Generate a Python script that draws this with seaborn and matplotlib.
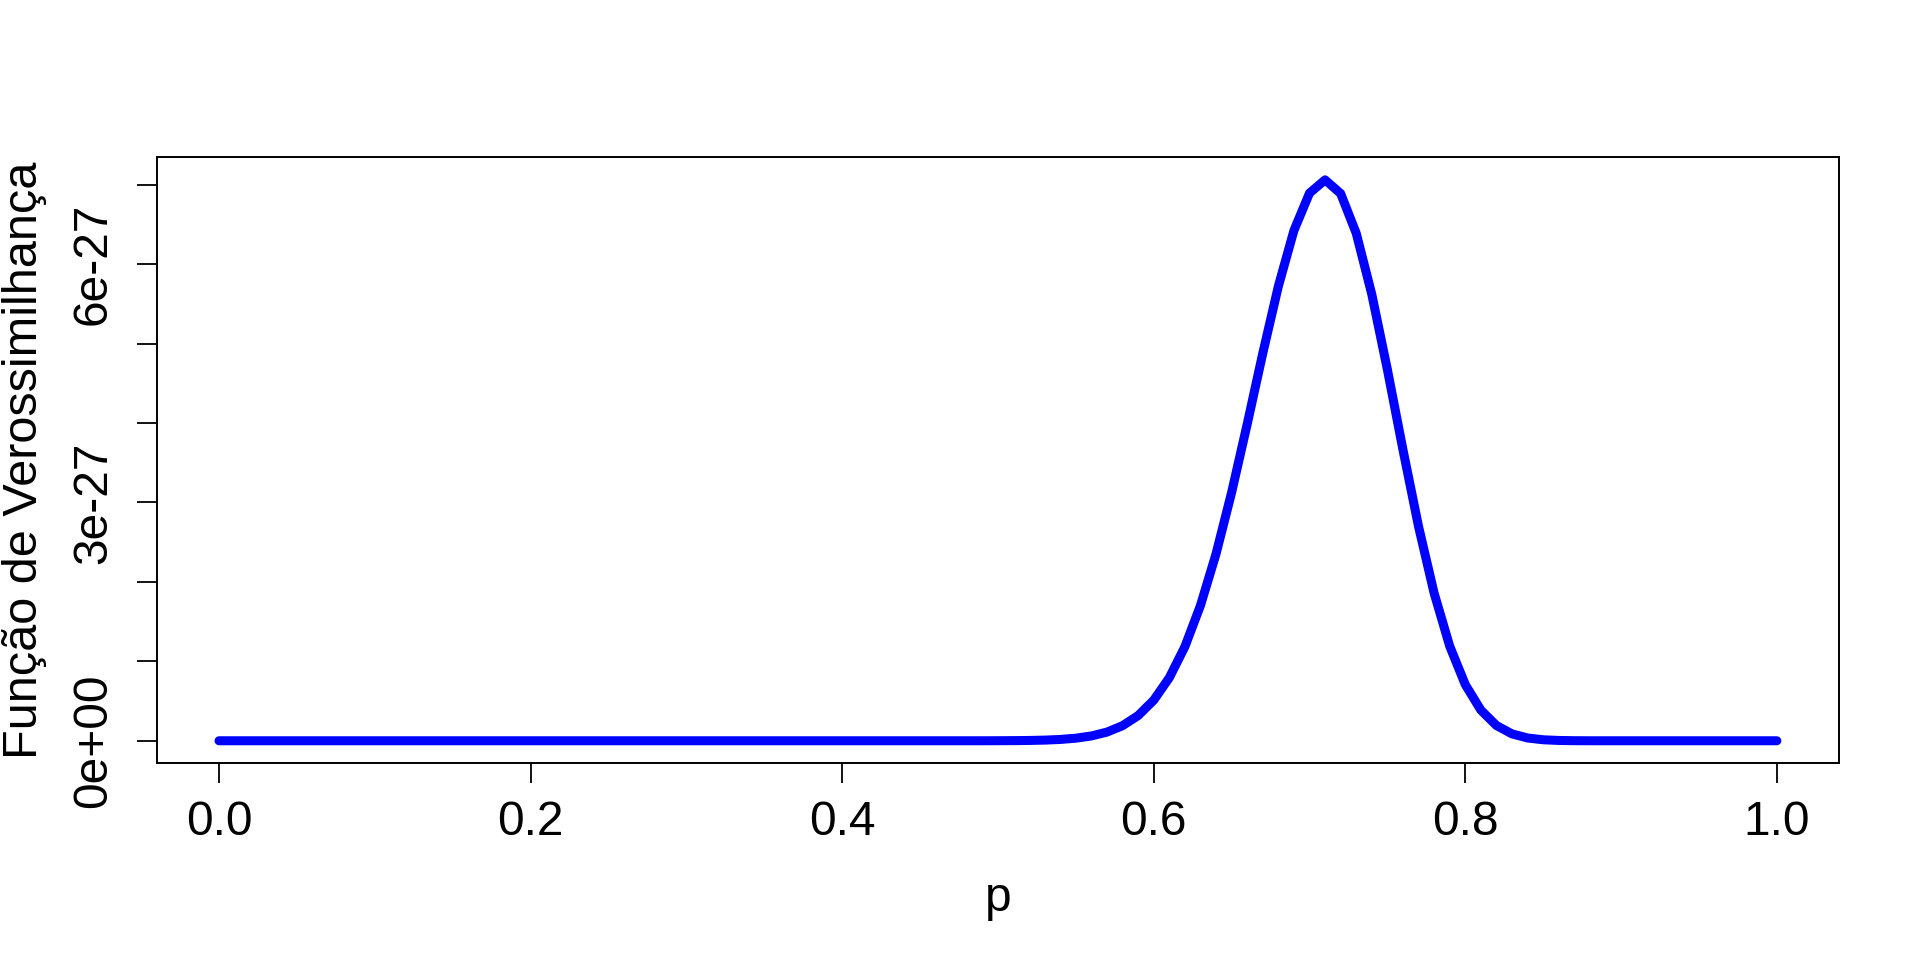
import numpy as np
import matplotlib
matplotlib.use("Agg")
import matplotlib.pyplot as plt
import seaborn as sns

# === dados: p de 0.00 a 1.00 (passo 0.01) e verossimilhança (em 1e-27) ===
p = np.round(np.linspace(0, 1, 101), 2)
veross = [
    0, 0, 0, 0, 0, 0, 0, 0, 0, 0,            # 0.00 - 0.09
    0, 0, 0, 0, 0, 0, 0, 0, 0, 0,            # 0.10 - 0.19
    0, 0, 0, 0, 0, 0, 0, 0, 0, 0,            # 0.20 - 0.29
    0, 0, 0, 0, 0, 0, 0, 0, 0, 0,            # 0.30 - 0.39
    0, 0, 0, 0, 0, 0, 0, 0, 0, 0,            # 0.40 - 0.49
    0.0008, 0.0018, 0.0039, 0.0082, 0.0166,  # 0.50 - 0.54
    0.0323, 0.0605, 0.109, 0.190, 0.317,     # 0.55 - 0.59
    0.511, 0.793, 1.184, 1.702, 2.352,       # 0.60 - 0.64
    3.125, 3.985, 4.877, 5.721, 6.423,       # 0.65 - 0.69
    6.894, 7.061, 6.889, 6.389, 5.619,       # 0.70 - 0.74
    4.673, 3.663, 2.697, 1.858, 1.191,       # 0.75 - 0.79
    0.707, 0.386, 0.192, 0.0866, 0.0349,     # 0.80 - 0.84
    0.0125, 0.0039, 0.0010, 0, 0,            # 0.85 - 0.89
    0, 0, 0, 0, 0, 0, 0, 0, 0, 0,            # 0.90 - 0.99
    0,                                       # 1.00
]
escala = 1e-27
yticks = [0, 1, 2, 3, 4, 5, 6, 7]
ytick_labels = ["0e+00", "", "", "3e-27", "", "", "6e-27", ""]
xticks = [0.0, 0.2, 0.4, 0.6, 0.8, 1.0]

# === estilo ===
sns.set_style("ticks")
plt.rcParams['font.family'] = ['Liberation Sans', 'DejaVu Sans']
plt.rcParams['text.color'] = 'black'
plt.rcParams['axes.labelcolor'] = 'black'
plt.rcParams['xtick.color'] = 'black'
plt.rcParams['ytick.color'] = 'black'
fs = 34.5

fig = plt.figure(figsize=(19.2, 9.6), dpi=100)
ax = fig.add_axes([0.0816, 0.205, 0.8763, 0.631])

y = np.array(veross) * escala
sns.lineplot(x=p, y=y, color="#0000ff", linewidth=6.5, solid_capstyle="round",
             solid_joinstyle="round", ax=ax)

ax.set_xlim(-0.04, 1.04)
ymax = max(veross) * escala
ax.set_ylim(-0.04 * ymax, 1.04 * ymax)

ax.set_xticks(xticks)
ax.set_xticklabels([f"{v:.1f}" for v in xticks], fontsize=fs, color="black")
ax.set_yticks([v * escala for v in yticks])
ax.set_yticklabels(ytick_labels, fontsize=fs, rotation=90, va="center", color="black")

ax.tick_params(axis="both", length=14.4, width=1.3, color="black", labelcolor="black")
ax.tick_params(axis="x", pad=12)
ax.tick_params(axis="y", pad=15)
for s in ax.spines.values():
    s.set_visible(True)
    s.set_linewidth(1.4)
    s.set_color("black")

ax.set_xlabel("p", fontsize=fs, color="black")
ax.set_ylabel("Função de Verossimilhança", fontsize=35, color="black")
ax.xaxis.set_label_coords(0.5, -0.2228)
ax.xaxis.label.set_va("center")
ax.yaxis.set_label_coords(-0.0785, 0.5)
ax.yaxis.label.set_va("center")

fig.savefig("out.png", dpi=100, facecolor="white")
